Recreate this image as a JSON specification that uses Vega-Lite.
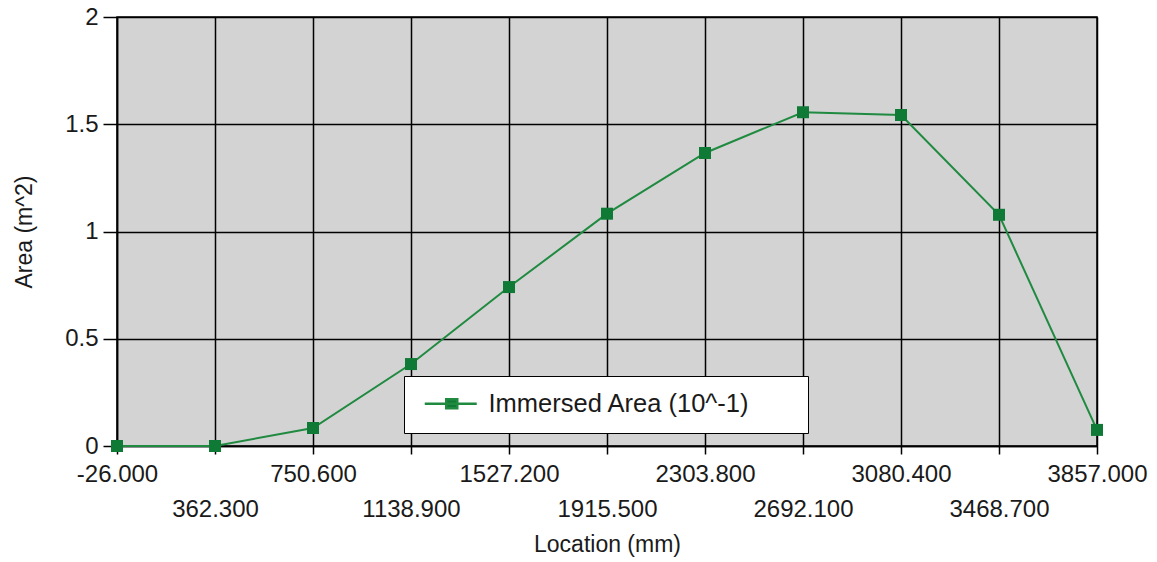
{
  "$schema": "https://vega.github.io/schema/vega-lite/v6.json",
  "width": 980,
  "height": 429,
  "autosize": {"type": "none"},
  "padding": {"left": 117, "top": 17, "right": 60, "bottom": 116},
  "background": "white",
  "data": {
    "values": [
      {"location": -26.0, "area": 0.0, "series": "Immersed Area (10^-1)"},
      {"location": 362.3, "area": 0.0, "series": "Immersed Area (10^-1)"},
      {"location": 750.6, "area": 0.084, "series": "Immersed Area (10^-1)"},
      {"location": 1138.9, "area": 0.382, "series": "Immersed Area (10^-1)"},
      {"location": 1527.2, "area": 0.741, "series": "Immersed Area (10^-1)"},
      {"location": 1915.5, "area": 1.083, "series": "Immersed Area (10^-1)"},
      {"location": 2303.8, "area": 1.366, "series": "Immersed Area (10^-1)"},
      {"location": 2692.1, "area": 1.556, "series": "Immersed Area (10^-1)"},
      {"location": 3080.4, "area": 1.543, "series": "Immersed Area (10^-1)"},
      {"location": 3468.7, "area": 1.078, "series": "Immersed Area (10^-1)"},
      {"location": 3857.0, "area": 0.075, "series": "Immersed Area (10^-1)"}
    ]
  },
  "encoding": {
    "x": {
      "field": "location",
      "type": "quantitative",
      "title": "Location (mm)",
      "scale": {"domain": [-26, 3857], "nice": false, "zero": false},
      "axis": {
        "values": [-26, 362.3, 750.6, 1138.9, 1527.2, 1915.5, 2303.8, 2692.1, 3080.4, 3468.7, 3857],
        "labelExpr": "(round((datum.value + 26) / 388.3) % 2 == 1) ? ['', replace(format(datum.value, '.3f'), '−', '-')] : replace(format(datum.value, '.3f'), '−', '-')",
        "labelOverlap": false,
        "labelFlush": false,
        "labelPadding": 8,
        "labelLineHeight": 35,
        "tickSize": 8,
        "titlePadding": 12
      }
    },
    "y": {
      "field": "area",
      "type": "quantitative",
      "title": "Area (m^2)",
      "scale": {"domain": [0, 2], "nice": false},
      "axis": {
        "values": [0, 0.5, 1, 1.5, 2],
        "format": "~g",
        "tickSize": 14,
        "labelPadding": 5,
        "titlePadding": 28
      }
    }
  },
  "layer": [
    {
      "mark": {"type": "line", "color": "#3a9d52", "strokeWidth": 2},
      "encoding": {
        "color": {
          "field": "series",
          "type": "nominal",
          "scale": {"range": ["#1f8a40"]},
          "legend": {
            "title": "\u00a0",
            "titleOrient": "right",
            "titlePadding": 43,
            "titleFontSize": 1,
            "titleColor": "white",
            "orient": "none",
            "legendX": 287,
            "legendY": 359,
            "fillColor": "white",
            "strokeColor": "black",
            "padding": 15,
            "symbolType": "M-0.7,0H4.5M1.45,-0.45H2.55V0.45H1.45Z",
            "symbolSize": 400,
            "symbolFillColor": "#0e7a35",
            "symbolStrokeColor": "#1f8a40",
            "symbolStrokeWidth": 2.5,
            "labelOffset": 44,
            "labelFontSize": 25.5,
            "labelFont": "Liberation Sans",
            "labelColor": "#1a1a1a",
            "labelLimit": 0
          }
        }
      }
    },
    {
      "mark": {"type": "square", "color": "#0e7a35", "size": 144, "opacity": 1}
    }
  ],
  "config": {
    "view": {"fill": "#d3d3d3", "stroke": "black", "strokeWidth": 1.5},
    "axis": {
      "domainColor": "black",
      "domainWidth": 1.5,
      "tickColor": "black",
      "tickWidth": 1.5,
      "gridColor": "black",
      "gridWidth": 1.5,
      "gridOpacity": 1,
      "labelFont": "Liberation Sans",
      "labelFontSize": 24,
      "labelColor": "#1a1a1a",
      "titleFont": "Liberation Sans",
      "titleFontSize": 23,
      "titleFontWeight": "normal",
      "titleColor": "#1a1a1a"
    }
  }
}
